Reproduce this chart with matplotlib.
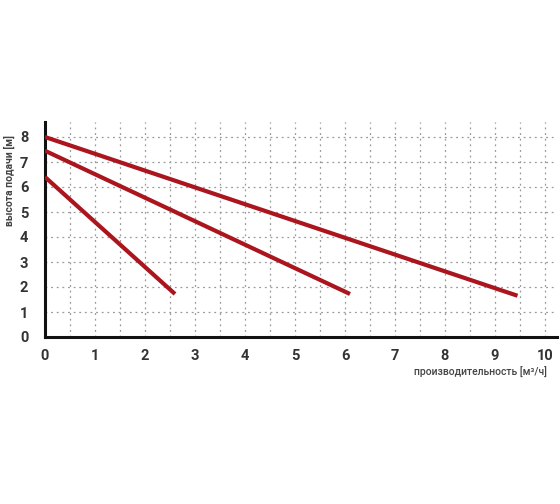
import matplotlib
matplotlib.use("Agg")
import matplotlib.pyplot as plt
import numpy as np

# Data
curve1_x = [0.0, 9.45]
curve1_y = [8.0, 1.65]
curve2_x = [0.0, 6.1]
curve2_y = [7.45, 1.72]
curve3_x = [0.0, 2.6]
curve3_y = [6.4, 1.72]
x_ticks = [0, 1, 2, 3, 4, 5, 6, 7, 8, 9, 10]
y_ticks = [0, 1, 2, 3, 4, 5, 6, 7, 8]
x_label = "производительность [м³/ч]"
y_label = "высота подачи [м]"

plt.rcParams['font.family'] = ['Roboto', 'DejaVu Sans']

fig = plt.figure(figsize=(5.6, 5.04), dpi=100)
ax = fig.add_axes([45/560, 1 - 337/504, (557 - 45)/560, (337 - 122)/504])

# grid
for gx in np.arange(0.5, 10.5, 0.5):
    ax.axvline(gx, color='#9a9a9a', lw=0.9, ls=(0, (1.5, 3)), zorder=1)
for gy in range(1, 9):
    ax.axhline(gy, color='#9a9a9a', lw=0.9, ls=(0, (1.5, 3)), zorder=1)

red = '#aa151e'
for xs, ys in [(curve1_x, curve1_y), (curve2_x, curve2_y), (curve3_x, curve3_y)]:
    ax.plot(xs, ys, color=red, lw=3.0, solid_capstyle='butt', zorder=3)

ax.set_xlim(0, 10.24)
ax.set_ylim(0, 8.6)
ax.set_xticks(x_ticks)
ax.set_yticks(y_ticks)
ax.tick_params(length=0, labelsize=10.5, labelcolor='#333333', pad=9)
for lab in ax.get_xticklabels() + ax.get_yticklabels():
    lab.set_fontweight('bold')
ax.tick_params(axis='y', pad=12)
for s in ['top', 'right']:
    ax.spines[s].set_visible(False)
for s in ['left', 'bottom']:
    ax.spines[s].set_linewidth(2.2)
    ax.spines[s].set_color('#111111')

fig.text(547/560, 1 - 372/504, x_label, ha='right', va='center', fontsize=7.5,
         color='#444444', fontweight='medium')
fig.text(9/560, 1 - 180/504, y_label, ha='center', va='center', rotation=90,
         fontsize=7.5, color='#444444', fontweight='bold')

fig.savefig("out.png", dpi=100)
